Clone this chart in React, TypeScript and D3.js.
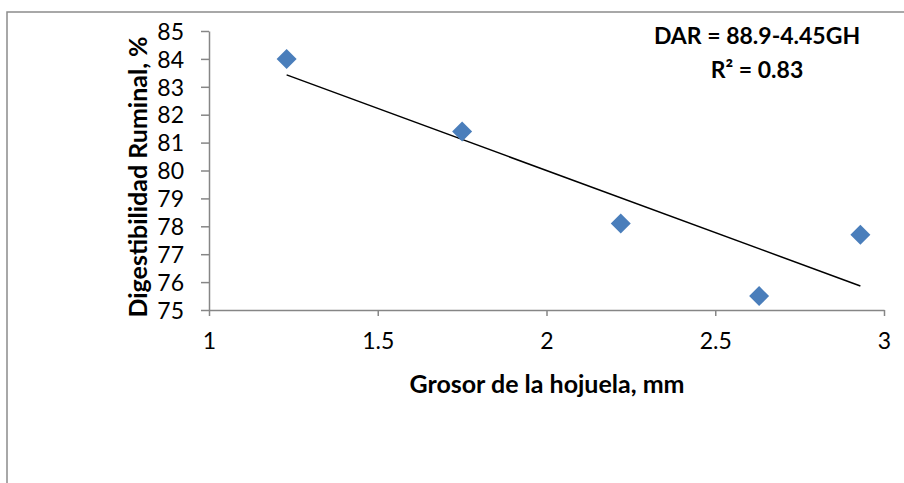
import React, { useEffect, useRef } from 'react';
import * as d3 from 'd3';

// Data
const grosor = [1.23, 1.75, 2.22, 2.63, 2.93];
const digestibilidad = [84.0, 81.4, 78.1, 75.5, 77.7];
const xTicks = [1, 1.5, 2, 2.5, 3];
const yTicks = [75, 76, 77, 78, 79, 80, 81, 82, 83, 84, 85];
const intercept = 88.9;
const slope = -4.45;

const App = () => {
  const chartRef = useRef<HTMLDivElement>(null);

  useEffect(() => {
    const width = 904;
    const height = 483;
    const font = 'Lato, "Open Sans", sans-serif';
    const axisColor = '#868686';

    d3.select(chartRef.current).select('svg').remove();

    const svg = d3.select(chartRef.current)
      .append('svg')
      .attr('width', width)
      .attr('height', height)
      .style('position', 'absolute')
      .style('left', '0px')
      .style('top', '0px')
      .style('background', 'white');

    // Outer chart border (right and bottom edges fall outside the picture)
    svg.append('rect')
      .attr('x', 7)
      .attr('y', 12)
      .attr('width', 920)
      .attr('height', 500)
      .attr('fill', 'none')
      .attr('stroke', '#8c8c8c')
      .attr('stroke-width', 1.5);

    // Scales
    const x = d3.scaleLinear().domain([1, 3]).range([209, 884]);
    const y = d3.scaleLinear().domain([75, 85]).range([310, 31]);

    // Y axis
    const yAxis = svg.append('g')
      .attr('transform', `translate(${x(1)},0)`)
      .call(d3.axisLeft(y).tickValues(yTicks).tickFormat(d3.format('d')).tickSize(8).tickSizeOuter(0));
    yAxis.select('.domain').attr('stroke', axisColor).attr('stroke-width', 1.5);
    yAxis.selectAll('line').attr('stroke', axisColor).attr('stroke-width', 1.5);
    yAxis.selectAll('text')
      .attr('fill', '#000')
      .attr('font-family', font)
      .attr('font-size', '23px')
      .attr('x', -25)
      .attr('dy', '0.36em');

    // X axis
    const xAxis = svg.append('g')
      .attr('transform', `translate(0,${y(75)})`)
      .call(d3.axisBottom(x).tickValues(xTicks).tickFormat(d3.format('')).tickSize(6).tickSizeOuter(0));
    xAxis.select('.domain').attr('stroke', axisColor).attr('stroke-width', 1.5);
    xAxis.selectAll('line').attr('stroke', axisColor).attr('stroke-width', 1.5);
    xAxis.selectAll('text')
      .attr('fill', '#000')
      .attr('font-family', font)
      .attr('font-size', '23px')
      .attr('y', 23)
      .attr('dy', '0.71em');

    // Trend line
    const xExt = d3.extent(grosor) as [number, number];
    svg.append('line')
      .attr('x1', x(xExt[0]))
      .attr('y1', y(intercept + slope * xExt[0]))
      .attr('x2', x(xExt[1]))
      .attr('y2', y(intercept + slope * xExt[1]))
      .attr('stroke', '#000')
      .attr('stroke-width', 1.5);

    // Points (diamonds)
    svg.selectAll('path.pt')
      .data(grosor)
      .enter()
      .append('path')
      .attr('class', 'pt')
      .attr('d', d3.symbol().type(d3.symbolSquare).size(200)())
      .attr('transform', (d, i) => `translate(${x(d)},${y(digestibilidad[i])}) rotate(45)`)
      .attr('fill', '#4a7ebb');

    // Equation
    svg.append('text')
      .attr('x', 757)
      .attr('y', 44)
      .attr('text-anchor', 'middle')
      .attr('font-family', font)
      .attr('font-weight', 'bold')
      .attr('font-size', '23px')
      .text('DAR = 88.9-4.45GH');

    svg.append('text')
      .attr('x', 757)
      .attr('y', 78)
      .attr('text-anchor', 'middle')
      .attr('font-family', font)
      .attr('font-weight', 'bold')
      .attr('font-size', '23px')
      .text('R² = 0.83');

    // X Axis Label
    svg.append('text')
      .attr('x', 547)
      .attr('y', 393)
      .attr('text-anchor', 'middle')
      .attr('font-family', font)
      .attr('font-weight', 'bold')
      .attr('font-size', '25px')
      .text('Grosor de la hojuela, mm');

    // Y Axis Label
    svg.append('text')
      .attr('transform', 'rotate(-90)')
      .attr('x', -177)
      .attr('y', 147)
      .attr('text-anchor', 'middle')
      .attr('font-family', font)
      .attr('font-weight', 'bold')
      .attr('font-size', '25px')
      .text('Digestibilidad Ruminal, %');
  }, []);

  return (
    <div ref={chartRef}></div>
  );
};

export default App;
